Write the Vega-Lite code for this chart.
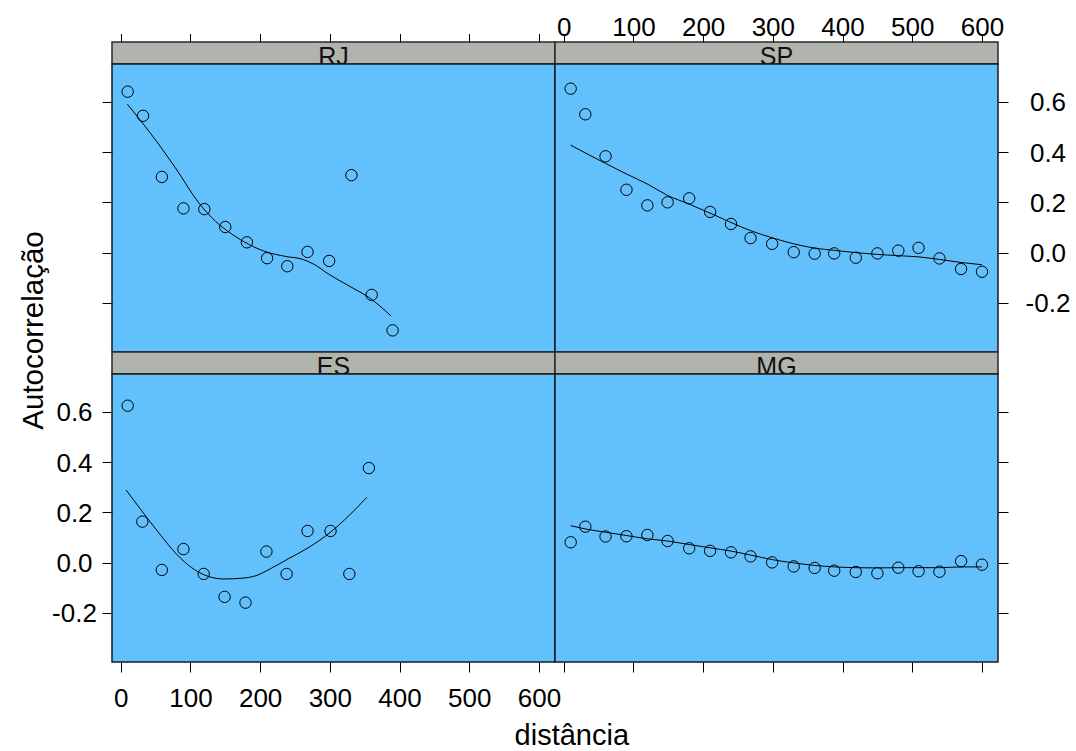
{
  "$schema": "https://vega.github.io/schema/vega-lite/v6.json",
  "background": "white",
  "padding": {"left": 17, "top": 13, "right": 0, "bottom": 0},
  "datasets": {
    "strips": [{"panel": "RJ"}, {"panel": "SP"}, {"panel": "ES"}, {"panel": "MG"}],
    "pts": [
      {"panel": "RJ", "d": 10, "r": 0.640}, {"panel": "RJ", "d": 32, "r": 0.544}, {"panel": "RJ", "d": 59, "r": 0.301}, {"panel": "RJ", "d": 90, "r": 0.176}, {"panel": "RJ", "d": 120, "r": 0.173}, {"panel": "RJ", "d": 150, "r": 0.102}, {"panel": "RJ", "d": 181, "r": 0.041}, {"panel": "RJ", "d": 210, "r": -0.022}, {"panel": "RJ", "d": 239, "r": -0.054}, {"panel": "RJ", "d": 268, "r": 0.003}, {"panel": "RJ", "d": 299, "r": -0.033}, {"panel": "RJ", "d": 331, "r": 0.308}, {"panel": "RJ", "d": 360, "r": -0.168}, {"panel": "RJ", "d": 390, "r": -0.309},
      {"panel": "SP", "d": 10, "r": 0.652}, {"panel": "SP", "d": 31, "r": 0.550}, {"panel": "SP", "d": 60, "r": 0.383}, {"panel": "SP", "d": 90, "r": 0.250}, {"panel": "SP", "d": 120, "r": 0.188}, {"panel": "SP", "d": 149, "r": 0.200}, {"panel": "SP", "d": 180, "r": 0.216}, {"panel": "SP", "d": 210, "r": 0.162}, {"panel": "SP", "d": 240, "r": 0.114}, {"panel": "SP", "d": 268, "r": 0.058}, {"panel": "SP", "d": 299, "r": 0.035}, {"panel": "SP", "d": 330, "r": 0.002}, {"panel": "SP", "d": 360, "r": -0.004}, {"panel": "SP", "d": 388, "r": -0.003}, {"panel": "SP", "d": 419, "r": -0.020}, {"panel": "SP", "d": 450, "r": -0.003}, {"panel": "SP", "d": 480, "r": 0.008}, {"panel": "SP", "d": 509, "r": 0.019}, {"panel": "SP", "d": 539, "r": -0.023}, {"panel": "SP", "d": 570, "r": -0.065}, {"panel": "SP", "d": 600, "r": -0.076},
      {"panel": "ES", "d": 10, "r": 0.624}, {"panel": "ES", "d": 31, "r": 0.163}, {"panel": "ES", "d": 59, "r": -0.029}, {"panel": "ES", "d": 90, "r": 0.054}, {"panel": "ES", "d": 119, "r": -0.045}, {"panel": "ES", "d": 149, "r": -0.136}, {"panel": "ES", "d": 179, "r": -0.159}, {"panel": "ES", "d": 209, "r": 0.044}, {"panel": "ES", "d": 238, "r": -0.045}, {"panel": "ES", "d": 268, "r": 0.126}, {"panel": "ES", "d": 301, "r": 0.126}, {"panel": "ES", "d": 328, "r": -0.045}, {"panel": "ES", "d": 356, "r": 0.376},
      {"panel": "MG", "d": 10, "r": 0.081}, {"panel": "MG", "d": 31, "r": 0.143}, {"panel": "MG", "d": 60, "r": 0.104}, {"panel": "MG", "d": 90, "r": 0.105}, {"panel": "MG", "d": 120, "r": 0.110}, {"panel": "MG", "d": 149, "r": 0.086}, {"panel": "MG", "d": 180, "r": 0.057}, {"panel": "MG", "d": 210, "r": 0.047}, {"panel": "MG", "d": 240, "r": 0.041}, {"panel": "MG", "d": 268, "r": 0.025}, {"panel": "MG", "d": 299, "r": 0.001}, {"panel": "MG", "d": 330, "r": -0.015}, {"panel": "MG", "d": 360, "r": -0.021}, {"panel": "MG", "d": 388, "r": -0.032}, {"panel": "MG", "d": 419, "r": -0.037}, {"panel": "MG", "d": 450, "r": -0.042}, {"panel": "MG", "d": 480, "r": -0.020}, {"panel": "MG", "d": 509, "r": -0.034}, {"panel": "MG", "d": 539, "r": -0.036}, {"panel": "MG", "d": 570, "r": 0.006}, {"panel": "MG", "d": 600, "r": -0.008}
    ],
    "fits": [
      {"panel": "RJ", "d": 9.6, "r": 0.590}, {"panel": "RJ", "d": 42.6, "r": 0.475}, {"panel": "RJ", "d": 78.5, "r": 0.337}, {"panel": "RJ", "d": 112, "r": 0.198}, {"panel": "RJ", "d": 135.9, "r": 0.125}, {"panel": "RJ", "d": 159.8, "r": 0.073}, {"panel": "RJ", "d": 183.7, "r": 0.033}, {"panel": "RJ", "d": 207.7, "r": 0.004}, {"panel": "RJ", "d": 236.4, "r": -0.015}, {"panel": "RJ", "d": 260.3, "r": -0.026}, {"panel": "RJ", "d": 277, "r": -0.046}, {"panel": "RJ", "d": 298.6, "r": -0.086}, {"panel": "RJ", "d": 327.3, "r": -0.132}, {"panel": "RJ", "d": 356, "r": -0.178}, {"panel": "RJ", "d": 387.6, "r": -0.251},
      {"panel": "SP", "d": 10.1, "r": 0.427}, {"panel": "SP", "d": 59.8, "r": 0.355}, {"panel": "SP", "d": 89.8, "r": 0.313}, {"panel": "SP", "d": 122, "r": 0.270}, {"panel": "SP", "d": 148.6, "r": 0.228}, {"panel": "SP", "d": 180, "r": 0.193}, {"panel": "SP", "d": 210, "r": 0.157}, {"panel": "SP", "d": 240, "r": 0.120}, {"panel": "SP", "d": 268.3, "r": 0.087}, {"panel": "SP", "d": 299.2, "r": 0.059}, {"panel": "SP", "d": 330, "r": 0.035}, {"panel": "SP", "d": 360, "r": 0.018}, {"panel": "SP", "d": 388.5, "r": 0.009}, {"panel": "SP", "d": 419, "r": 0.0}, {"panel": "SP", "d": 449.8, "r": -0.007}, {"panel": "SP", "d": 480, "r": -0.012}, {"panel": "SP", "d": 509.7, "r": -0.017}, {"panel": "SP", "d": 539, "r": -0.027}, {"panel": "SP", "d": 570, "r": -0.039}, {"panel": "SP", "d": 600, "r": -0.048},
      {"panel": "ES", "d": 7.7, "r": 0.289}, {"panel": "ES", "d": 29.3, "r": 0.209}, {"panel": "ES", "d": 55, "r": 0.117}, {"panel": "ES", "d": 80.7, "r": 0.032}, {"panel": "ES", "d": 101.3, "r": -0.019}, {"panel": "ES", "d": 119.3, "r": -0.048}, {"panel": "ES", "d": 147.6, "r": -0.065}, {"panel": "ES", "d": 173.3, "r": -0.062}, {"panel": "ES", "d": 193.8, "r": -0.052}, {"panel": "ES", "d": 214.4, "r": -0.025}, {"panel": "ES", "d": 240.1, "r": 0.015}, {"panel": "ES", "d": 268.4, "r": 0.058}, {"panel": "ES", "d": 300.8, "r": 0.121}, {"panel": "ES", "d": 327.5, "r": 0.187}, {"panel": "ES", "d": 353.2, "r": 0.260},
      {"panel": "MG", "d": 10.1, "r": 0.147}, {"panel": "MG", "d": 30.9, "r": 0.134}, {"panel": "MG", "d": 59.8, "r": 0.121}, {"panel": "MG", "d": 89.8, "r": 0.108}, {"panel": "MG", "d": 119.7, "r": 0.095}, {"panel": "MG", "d": 148.6, "r": 0.086}, {"panel": "MG", "d": 180, "r": 0.072}, {"panel": "MG", "d": 210, "r": 0.059}, {"panel": "MG", "d": 240, "r": 0.046}, {"panel": "MG", "d": 268.3, "r": 0.030}, {"panel": "MG", "d": 299.2, "r": 0.012}, {"panel": "MG", "d": 330, "r": -0.001}, {"panel": "MG", "d": 360, "r": -0.011}, {"panel": "MG", "d": 388.5, "r": -0.017}, {"panel": "MG", "d": 419, "r": -0.020}, {"panel": "MG", "d": 449.8, "r": -0.021}, {"panel": "MG", "d": 480, "r": -0.020}, {"panel": "MG", "d": 509.7, "r": -0.020}, {"panel": "MG", "d": 539, "r": -0.020}, {"panel": "MG", "d": 570, "r": -0.017}, {"panel": "MG", "d": 600, "r": -0.017}
    ]
  },
  "columns": 2,
  "bounds": "flush",
  "align": "each",
  "spacing": 0,
  "concat": [
    {
      "width": 443, "height": 22,
      "view": {"fill": "#b1b4ad", "stroke": "#2a2a2a", "strokeWidth": 1.5},
      "layer": [
        {"data": {"name": "pts"}, "transform": [{"filter": "datum.panel === 'RJ'"}],
         "mark": {"type": "point", "opacity": 0},
         "encoding": {"x": {"field": "d", "type": "quantitative", "scale": {"domain": [-12.5, 623], "nice": false, "zero": false},
           "axis": {"orient": "top", "title": null, "values": [0, 100, 200, 300, 400, 500, 600], "labels": false, "tickSize": 8.5, "domain": false, "grid": false, "tickColor": "black"}}}},
        {"data": {"name": "strips"}, "transform": [{"filter": "datum.panel === 'RJ'"}],
         "mark": {"type": "text", "fontSize": 25, "font": "Liberation Sans", "color": "#111", "baseline": "alphabetic", "dy": 12.3},
         "encoding": {"text": {"field": "panel"}}}
      ]
    },
    {
      "width": 443, "height": 22,
      "view": {"fill": "#b1b4ad", "stroke": "#2a2a2a", "strokeWidth": 1.5},
      "layer": [
        {"data": {"name": "pts"}, "transform": [{"filter": "datum.panel === 'SP'"}],
         "mark": {"type": "point", "opacity": 0},
         "encoding": {"x": {"field": "d", "type": "quantitative", "scale": {"domain": [-12.5, 623], "nice": false, "zero": false},
           "axis": {"orient": "top", "title": null, "values": [0, 100, 200, 300, 400, 500, 600], "tickSize": 8.5, "labelPadding": -7, "labelFlush": false, "labelOverlap": false, "domain": false, "grid": false, "tickColor": "black", "labelColor": "black", "labelFont": "Liberation Sans", "labelFontSize": 26}}}},
        {"data": {"name": "strips"}, "transform": [{"filter": "datum.panel === 'SP'"}],
         "mark": {"type": "text", "fontSize": 25, "font": "Liberation Sans", "color": "#111", "baseline": "alphabetic", "dy": 12.3},
         "encoding": {"text": {"field": "panel"}}}
      ]
    },
    {
      "width": 443, "height": 288,
      "view": {"fill": "#62c1fc", "stroke": "#1a1a1a", "strokeWidth": 1.5},
      "encoding": {
        "x": {"field": "d", "type": "quantitative", "scale": {"domain": [-12.5, 623], "nice": false, "zero": false}, "axis": null},
        "y": {"field": "r", "type": "quantitative", "scale": {"domain": [-0.395, 0.75], "nice": false, "zero": false},
          "axis": {"orient": "left", "title": null, "values": [-0.2, 0, 0.2, 0.4, 0.6], "labels": false, "tickSize": 10, "domain": false, "grid": false, "tickColor": "black"}}
      },
      "layer": [
        {"data": {"name": "pts"}, "transform": [{"filter": "datum.panel === 'RJ'"}], "mark": {"type": "point", "shape": "circle", "filled": false, "color": "black", "size": 130, "strokeWidth": 1, "opacity": 1}},
        {"data": {"name": "fits"}, "transform": [{"filter": "datum.panel === 'RJ'"}], "mark": {"type": "line", "color": "black", "strokeWidth": 1, "interpolate": "monotone"}}
      ]
    },
    {
      "width": 443, "height": 288,
      "view": {"fill": "#62c1fc", "stroke": "#1a1a1a", "strokeWidth": 1.5},
      "encoding": {
        "x": {"field": "d", "type": "quantitative", "scale": {"domain": [-12.5, 623], "nice": false, "zero": false}, "axis": null},
        "y": {"field": "r", "type": "quantitative", "scale": {"domain": [-0.395, 0.75], "nice": false, "zero": false},
          "axis": {"orient": "right", "title": null, "values": [-0.2, 0, 0.2, 0.4, 0.6], "labelExpr": "replace(format(datum.value, '.1f'), '−', '-')", "tickSize": 10, "labelPadding": 39.5, "labelAlign": "center", "labelBaseline": "middle", "labelOffset": 1, "labelOverlap": false, "domain": false, "grid": false, "tickColor": "black", "labelColor": "black", "labelFont": "Liberation Sans", "labelFontSize": 26}}
      },
      "layer": [
        {"data": {"name": "pts"}, "transform": [{"filter": "datum.panel === 'SP'"}], "mark": {"type": "point", "shape": "circle", "filled": false, "color": "black", "size": 130, "strokeWidth": 1, "opacity": 1}},
        {"data": {"name": "fits"}, "transform": [{"filter": "datum.panel === 'SP'"}], "mark": {"type": "line", "color": "black", "strokeWidth": 1, "interpolate": "monotone"}}
      ]
    },
    {
      "width": 443, "height": 22,
      "view": {"fill": "#b1b4ad", "stroke": "#2a2a2a", "strokeWidth": 1.5},
      "data": {"name": "strips"}, "transform": [{"filter": "datum.panel === 'ES'"}],
      "mark": {"type": "text", "fontSize": 25, "font": "Liberation Sans", "color": "#111", "baseline": "alphabetic", "dy": 12.3},
      "encoding": {"text": {"field": "panel"}}
    },
    {
      "width": 443, "height": 22,
      "view": {"fill": "#b1b4ad", "stroke": "#2a2a2a", "strokeWidth": 1.5},
      "data": {"name": "strips"}, "transform": [{"filter": "datum.panel === 'MG'"}],
      "mark": {"type": "text", "fontSize": 25, "font": "Liberation Sans", "color": "#111", "baseline": "alphabetic", "dy": 12.3},
      "encoding": {"text": {"field": "panel"}}
    },
    {
      "width": 443, "height": 288,
      "view": {"fill": "#62c1fc", "stroke": "#1a1a1a", "strokeWidth": 1.5},
      "encoding": {
        "x": {"field": "d", "type": "quantitative", "scale": {"domain": [-12.5, 623], "nice": false, "zero": false},
          "axis": {"orient": "bottom", "title": "distância", "titleX": 459.3, "titleY": 82.5, "titleAlign": "center", "titleBaseline": "alphabetic", "titleFont": "Liberation Sans", "titleFontSize": 29, "titleFontWeight": "normal", "titleColor": "black",
            "values": [0, 100, 200, 300, 400, 500, 600], "tickSize": 10, "labelPadding": 13.5, "labelFlush": false, "labelOverlap": false, "domain": false, "grid": false, "tickColor": "black", "labelColor": "black", "labelFont": "Liberation Sans", "labelFontSize": 26}},
        "y": {"field": "r", "type": "quantitative", "scale": {"domain": [-0.395, 0.75], "nice": false, "zero": false},
          "axis": {"orient": "left", "title": "Autocorrelação", "titleX": -70, "titleY": -44, "titleAngle": -90, "titleAlign": "center", "titleBaseline": "alphabetic", "titleFont": "Liberation Sans", "titleFontSize": 29.5, "titleFontWeight": "normal", "titleColor": "black",
            "values": [-0.2, 0, 0.2, 0.4, 0.6], "labelExpr": "replace(format(datum.value, '.1f'), '−', '-')", "tickSize": 10, "labelPadding": 28, "labelAlign": "center", "labelBaseline": "middle", "labelOffset": 1, "labelOverlap": false, "domain": false, "grid": false, "tickColor": "black", "labelColor": "black", "labelFont": "Liberation Sans", "labelFontSize": 26}}
      },
      "layer": [
        {"data": {"name": "pts"}, "transform": [{"filter": "datum.panel === 'ES'"}], "mark": {"type": "point", "shape": "circle", "filled": false, "color": "black", "size": 130, "strokeWidth": 1, "opacity": 1}},
        {"data": {"name": "fits"}, "transform": [{"filter": "datum.panel === 'ES'"}], "mark": {"type": "line", "color": "black", "strokeWidth": 1, "interpolate": "monotone"}}
      ]
    },
    {
      "width": 443, "height": 288,
      "view": {"fill": "#62c1fc", "stroke": "#1a1a1a", "strokeWidth": 1.5},
      "encoding": {
        "x": {"field": "d", "type": "quantitative", "scale": {"domain": [-12.5, 623], "nice": false, "zero": false},
          "axis": {"orient": "bottom", "title": null, "values": [0, 100, 200, 300, 400, 500, 600], "labels": false, "tickSize": 10, "domain": false, "grid": false, "tickColor": "black"}},
        "y": {"field": "r", "type": "quantitative", "scale": {"domain": [-0.395, 0.75], "nice": false, "zero": false},
          "axis": {"orient": "right", "title": null, "values": [-0.2, 0, 0.2, 0.4, 0.6], "labels": false, "tickSize": 10, "domain": false, "grid": false, "tickColor": "black"}}
      },
      "layer": [
        {"data": {"name": "pts"}, "transform": [{"filter": "datum.panel === 'MG'"}], "mark": {"type": "point", "shape": "circle", "filled": false, "color": "black", "size": 130, "strokeWidth": 1, "opacity": 1}},
        {"data": {"name": "fits"}, "transform": [{"filter": "datum.panel === 'MG'"}], "mark": {"type": "line", "color": "black", "strokeWidth": 1, "interpolate": "monotone"}}
      ]
    }
  ]
}
